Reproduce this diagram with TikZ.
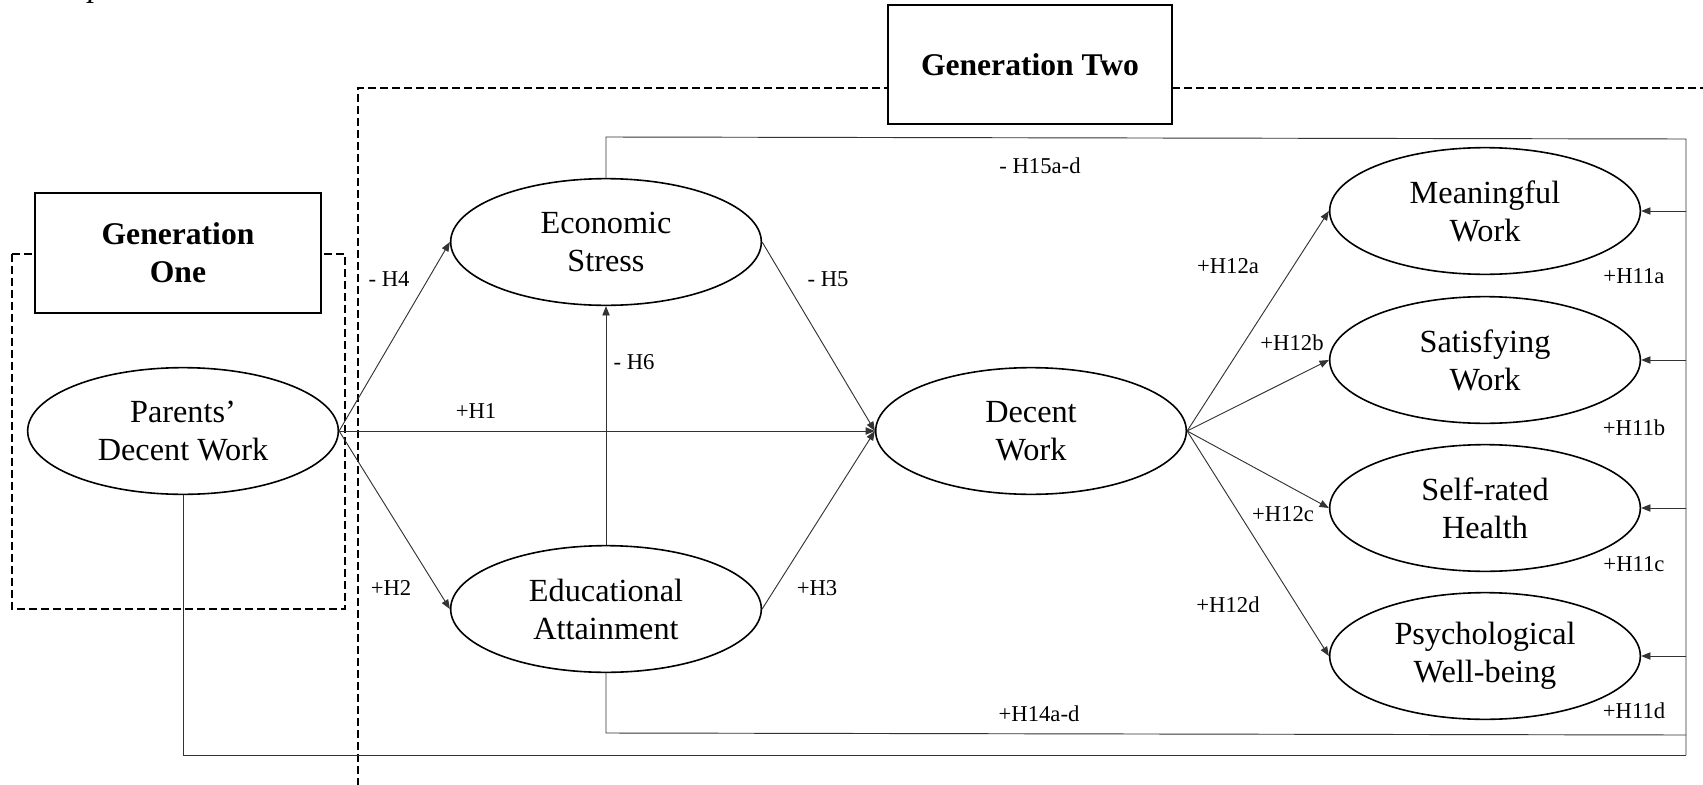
\documentclass[tikz,border=0pt]{standalone}
\usepackage{fontspec}
\setmainfont{Liberation Serif}
\usetikzlibrary{shapes.geometric,arrows.meta}
\begin{document}
\begin{tikzpicture}[x=0.75pt,y=-0.75pt,
  latent/.style={ellipse,draw,line width=1.2pt,minimum width=233pt,minimum height=95pt,inner sep=0pt,align=center,font=\fontsize{24.2}{28.5}\selectfont},
  titlebox/.style={draw,line width=1.1pt,fill=white,align=center,font=\fontsize{23.7}{28.5}\selectfont\bfseries},
  conn/.style={line width=0.7pt,draw=black!80,-{Triangle[length=7pt,width=5.5pt]}},
  plainline/.style={line width=0.7pt,draw=black!80},
  group/.style={line width=1.7pt,dash pattern=on 6pt off 3pt},
  lab/.style={font=\fontsize{17}{20}\selectfont,inner sep=0pt}]
\useasboundingbox (0,0) rectangle (1703,785);

% top-left cut-off glyph
\node[anchor=base west,inner sep=0pt,font=\fontsize{24.5}{28.5}\selectfont\itshape] (cut) at (88,-3) {p};

% group frames
\draw[group] (1720,88) -- (358,88) -- (358,800);
\draw[group] (12,254) rectangle (345,609);
\node[titlebox,minimum width=213pt,minimum height=89pt] (g2) at (1030,64.5) {Generation Two};
\node[titlebox,minimum width=214.5pt,minimum height=90pt] (g1) at (178,253) {Generation\\One};

% latent variables
\node[latent] (pdw) at (183,431) {Parents'\\Decent Work};
\node[latent] (es) at (606,242) {Economic\\Stress};
\node[latent] (ea) at (606,609) {Educational\\Attainment};
\node[latent] (dw) at (1031,431) {Decent\\Work};
\node[latent] (mw) at (1485,211) {Meaningful\\Work};
\node[latent] (sw) at (1485,360) {Satisfying\\Work};
\node[latent] (sh) at (1485,508) {Self-rated\\Health};
\node[latent] (pw) at (1485,656) {Psychological\\Well-being};

% corner coordinates of the feedback lines
\coordinate (esTop) at (606,137);
\coordinate (rTop) at (1686,139);
\coordinate (eaBot) at (606,733);
\coordinate (rEa) at (1686,735);
\coordinate (pBot) at (183,755);
\coordinate (rBot) at (1686,755);
\coordinate (rM) at (1686,211);
\coordinate (rS) at (1686,360);
\coordinate (rH) at (1686,508);
\coordinate (rP) at (1686,656);

% main paths
\draw[conn] (pdw.east) -- (dw.west);
\draw[conn] (pdw.east) -- (es.west);
\draw[conn] (pdw.east) -- (ea.west);
\draw[conn] (es.east) -- (dw.west);
\draw[conn] (ea.east) -- (dw.west);
\draw[conn] (ea.north) -- (es.south);
\draw[conn] (dw.east) -- (mw.west);
\draw[conn] (dw.east) -- (sw.west);
\draw[conn] (dw.east) -- (sh.west);
\draw[conn] (dw.east) -- (pw.west);

% moderation lines
\draw[plainline] (es.north) -- (esTop) -- (rTop) -- (rBot);
\draw[plainline] (ea.south) -- (eaBot) -- (rEa);
\draw[plainline] (pdw.south) -- (pBot) -- (rBot);
\draw[conn] (rM) -- (mw.east);
\draw[conn] (rS) -- (sw.east);
\draw[conn] (rH) -- (sh.east);
\draw[conn] (rP) -- (pw.east);

% labels
\node[lab] (l15) at (1040,166) {- H15a-d};
\node[lab] (l4) at (389,279) {- H4};
\node[lab] (l5) at (828,279) {- H5};
\node[lab] (l6) at (634,362) {- H6};
\node[lab] (l1) at (476,411) {+H1};
\node[lab] (l2) at (391,588) {+H2};
\node[lab] (l3) at (817,588) {+H3};
\node[lab] (l12a) at (1228,266) {+H12a};
\node[lab] (l12b) at (1292,343) {+H12b};
\node[lab] (l12c) at (1283,514) {+H12c};
\node[lab] (l12d) at (1228,605) {+H12d};
\node[lab] (l11a) at (1634,276) {+H11a};
\node[lab] (l11b) at (1634,428) {+H11b};
\node[lab] (l11c) at (1634,564) {+H11c};
\node[lab] (l11d) at (1634,711) {+H11d};
\node[lab] (l14) at (1039,714) {+H14a-d};
\end{tikzpicture}
\end{document}
